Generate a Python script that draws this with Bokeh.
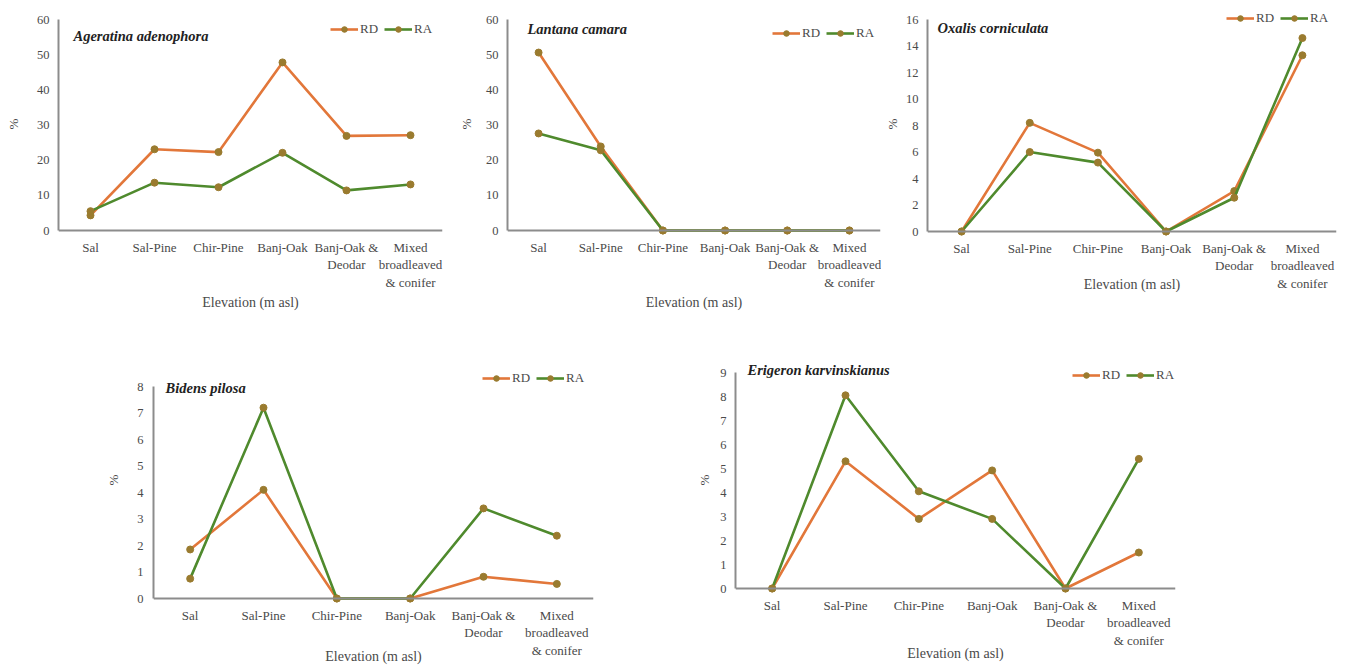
from bokeh.plotting import figure
from bokeh.models import FactorRange, Range1d, FixedTicker, Legend, LegendItem, Label, Spacer, Span
from bokeh.layouts import row, column
from bokeh.embed import file_html
from bokeh.resources import INLINE

# ---------------- data ----------------
categories = ["Sal", "Sal-Pine", "Chir-Pine", "Banj-Oak",
              "Banj-Oak &\nDeodar", "Mixed\nbroadleaved\n& conifer"]
species = ["Ageratina adenophora", "Lantana camara", "Oxalis corniculata",
           "Bidens pilosa", "Erigeron karvinskianus"]
series_names = ["RD", "RA"]

ageratina_rd = [4.3, 23.1, 22.3, 47.8, 26.9, 27.1]
ageratina_ra = [5.5, 13.6, 12.3, 22.1, 11.4, 13.1]
lantana_rd = [50.6, 23.9, 0, 0, 0, 0]
lantana_ra = [27.6, 22.8, 0, 0, 0, 0]
oxalis_rd = [0, 8.2, 5.95, 0, 3.05, 13.3]
oxalis_ra = [0, 6.0, 5.2, 0, 2.55, 14.6]
bidens_rd = [1.85, 4.1, 0, 0, 0.82, 0.55]
bidens_ra = [0.75, 7.2, 0, 0, 3.4, 2.37]
erigeron_rd = [0, 5.3, 2.9, 4.92, 0, 1.5]
erigeron_ra = [0, 8.05, 4.05, 2.9, 0, 5.4]

y_max = [60, 60, 16, 8, 9]
y_step = [10, 10, 2, 1, 1]
x_title = "Elevation (m asl)"
y_title = "%"

rd_series = [ageratina_rd, lantana_rd, oxalis_rd, bidens_rd, erigeron_rd]
ra_series = [ageratina_ra, lantana_ra, oxalis_ra, bidens_ra, erigeron_ra]

# ---------------- styles / layout (page pixels) ----------------
RD_COLOR = "#E2773A"
RA_COLOR = "#4F8A2D"
MARK_COLOR = "#9A7B2F"
AXIS_COLOR = "#8C8C8C"
TEXT_COLOR = "#4A4A4A"
FONT = "Liberation Serif"

# row boxes: figure top/bottom and common frame top/bottom (page px)
rows_cfg = [dict(ft=0, fb=335, frt=11, frb=236),
            dict(ft=335, fb=666, frt=356, frb=603)]

# fl/fr: figure left/right, xl/xr: frame left/right, yt: y of top tick, y0: y of zero
layout_cfg = [
    dict(r=0, fl=0, fr=453, xl=58, xr=442, yt=19, y0=230,
         yts=9, yls=13, xls=2, tt=(73, 35), lg=(330, 30)),
    dict(r=0, fl=453, fr=881, xl=507, xr=880, yt=19, y0=230,
         yts=9, yls=9, xls=2, tt=(527, 28), lg=(772, 34)),
    dict(r=0, fl=881, fr=1345, xl=927, xr=1336, yt=19, y0=231,
         yts=9, yls=3, xls=-17, tt=(937, 27), lg=(1226, 19)),
    dict(r=1, fl=102, fr=603, xl=153, xr=593, yt=386, y0=598,
         yts=10, yls=13, xls=-12, tt=(165, 387), lg=(482, 379)),
    dict(r=1, fl=691, fr=1195, xl=735, xr=1175, yt=372, y0=588,
         yts=9, yls=5, xls=-5, tt=(747, 369), lg=(1072, 376)),
]


def make_panel(i):
    c = layout_cfg[i]
    rc = rows_cfg[c["r"]]
    ppu = (c["y0"] - c["yt"]) / y_max[i]
    frame_top, frame_bottom = rc["frt"], rc["frb"]
    y_start = -(frame_bottom - c["y0"]) / ppu
    y_end = y_max[i] + (c["yt"] - frame_top) / ppu
    p = figure(x_range=FactorRange(factors=categories, range_padding=0),
               y_range=Range1d(y_start, y_end),
               width=c["fr"] - c["fl"], height=rc["fb"] - rc["ft"],
               min_border_left=c["xl"] - c["fl"], min_border_right=c["fr"] - c["xr"],
               min_border_top=frame_top - rc["ft"], min_border_bottom=rc["fb"] - frame_bottom,
               output_backend="svg", toolbar_location=None, tools="")
    p.outline_line_color = None
    p.xgrid.visible = False
    p.ygrid.visible = False
    p.background_fill_color = "white"
    p.border_fill_color = "white"

    # axes
    xa = p.xaxis[0]
    ya = p.yaxis[0]
    ya.bounds = (0, y_max[i])
    ya.ticker = FixedTicker(ticks=list(range(0, y_max[i] + 1, y_step[i])))
    for ax in (xa, ya):
        ax.axis_line_color = AXIS_COLOR
        ax.axis_line_width = 2
        ax.major_tick_line_color = None
        ax.minor_tick_line_color = None
        ax.major_tick_out = 0
        ax.major_tick_in = 0
        ax.minor_tick_out = 0
        ax.minor_tick_in = 0
        ax.major_label_text_font = FONT
        ax.major_label_text_color = TEXT_COLOR
        ax.axis_label_text_font = FONT
        ax.axis_label_text_font_size = "14px"
        ax.axis_label_text_font_style = "normal"
        ax.axis_label_text_color = TEXT_COLOR
    xa.axis_line_color = None
    xa.major_label_text_font_size = "13px"
    xa.major_label_text_line_height = 1.17
    xa.major_label_standoff = 9 - (frame_bottom - c["y0"])
    xa.axis_label = x_title
    xa.axis_label_standoff = c["xls"]
    ya.major_label_text_font_size = "12.5px"
    ya.major_label_standoff = c["yts"]
    ya.axis_label = y_title
    ya.axis_label_text_font_size = "13px"
    ya.axis_label_standoff = c["yls"]
    # category axis baseline at zero
    p.add_layout(Span(location=0, dimension="width", line_color=AXIS_COLOR, line_width=2))

    # series
    items = []
    for name, vals, col in ((series_names[0], rd_series[i], RD_COLOR),
                            (series_names[1], ra_series[i], RA_COLOR)):
        ln = p.line(categories, vals, line_color=col, line_width=2.6)
        sc = p.scatter(categories, vals, marker="circle", size=7,
                       fill_color=MARK_COLOR, line_color=MARK_COLOR)
        items.append(LegendItem(label=name, renderers=[ln, sc]))

    lg_left, lg_cy = c["lg"]
    legend = Legend(items=items, orientation="horizontal",
                    location=(lg_left - c["xl"], frame_bottom - (lg_cy + 7)),
                    glyph_width=28, glyph_height=14, label_height=14,
                    label_standoff=2, spacing=4, padding=0, margin=0,
                    background_fill_alpha=0, border_line_alpha=0,
                    label_text_font=FONT, label_text_font_size="13px",
                    label_text_color=TEXT_COLOR)
    p.add_layout(legend)

    tl, tcy = c["tt"]
    p.add_layout(Label(x=tl - c["xl"], y=frame_bottom - tcy, x_units="screen", y_units="screen",
                       text=species[i], text_font=FONT, text_font_size="14.5px",
                       text_font_style="bold italic", text_color="#222222",
                       text_baseline="middle", text_align="left"))
    return p


panels = [make_panel(i) for i in range(5)]

top = row(panels[0], panels[1], panels[2])
bottom = row(Spacer(width=layout_cfg[3]["fl"], height=10), panels[3],
             Spacer(width=layout_cfg[4]["fl"] - layout_cfg[3]["fr"], height=10), panels[4])
page = column(top, bottom)

open("out.html", "w").write(file_html(page, INLINE))
